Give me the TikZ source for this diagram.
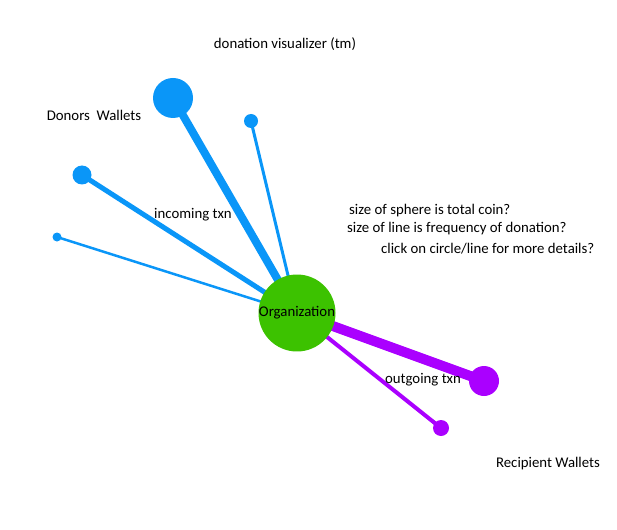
\documentclass[tikz,border=0pt]{standalone}
\usepackage{fontspec}
\setmainfont{Carlito}
\definecolor{donor}{HTML}{0A96F8}
\definecolor{recip}{HTML}{AA00FF}
\definecolor{org}{HTML}{3CC200}
\begin{document}
\begin{tikzpicture}[x=1pt,y=-1pt,
  lbl/.style={font=\fontsize{14.8}{17}\selectfont, inner sep=0pt},
  dot/.style={circle, inner sep=0pt, fill=#1, draw=none},
  edge/.style={draw=#1}]
\useasboundingbox (0,0) rectangle (617,529);
% nodes
\node[dot=donor, minimum size=40pt] (d1) at (173,98) {};
\node[dot=donor, minimum size=14pt] (d2) at (251,121) {};
\node[dot=donor, minimum size=19pt] (d3) at (82,175) {};
\node[dot=donor, minimum size=9pt] (d4) at (57,237) {};
\node[dot=recip, minimum size=30pt] (r1) at (484,381) {};
\node[dot=recip, minimum size=16pt] (r2) at (441,428) {};
\coordinate (oc) at (297,313);
% edges
\draw[edge=donor, line width=8pt] (d1.center) -- (oc);
\draw[edge=donor, line width=3pt] (d2.center) -- (oc);
\draw[edge=donor, line width=5pt] (d3.center) -- (oc);
\draw[edge=donor, line width=2.5pt] (d4.center) -- (oc);
\draw[edge=recip, line width=10pt] (r1.center) -- (oc);
\draw[edge=recip, line width=4pt] (r2.center) -- (oc);
\node[dot=org, minimum size=76pt, font=\fontsize{14.8}{17}\selectfont] (org) at (oc) {Organization};
% labels
\node[lbl] (title) at (285,44) {donation visualizer (tm)};
\node[lbl] (donors) at (94,115) {Donors\ \ Wallets};
\node[lbl] (inc) at (193,215) {incoming txn};
\node[lbl] (out) at (423,380) {outgoing txn};
\node[lbl] (recw) at (548,464) {Recipient Wallets};
\node[lbl, anchor=west] (n1) at (349,211) {size of sphere is total coin?};
\node[lbl, anchor=west] (n2) at (347,229) {size of line is frequency of donation?};
\node[lbl, anchor=west] (n3) at (381,249) {click on circle/line for more details?};
\end{tikzpicture}
\end{document}
